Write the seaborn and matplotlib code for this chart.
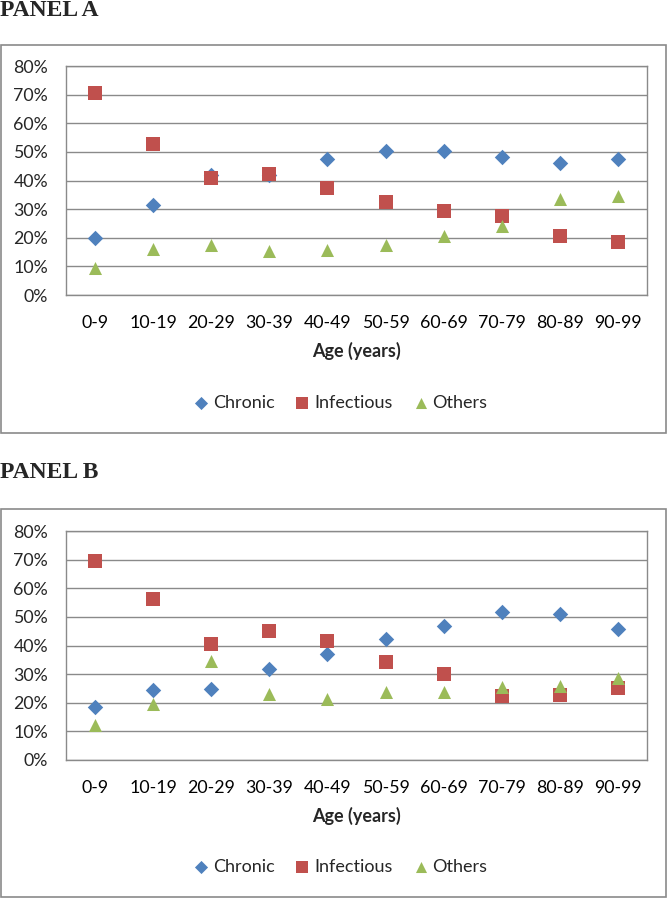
import numpy as np
import pandas as pd
import matplotlib
matplotlib.use("Agg")
import matplotlib.pyplot as plt
import seaborn as sns
from matplotlib.patches import Rectangle
from matplotlib.ticker import FixedLocator, FuncFormatter

# data (fractions)
age_groups = ["0-9", "10-19", "20-29", "30-39", "40-49",
              "50-59", "60-69", "70-79", "80-89", "90-99"]
series_names = ["Chronic", "Infectious", "Others"]

a_chronic = [0.20, 0.313, 0.42, 0.42, 0.474, 0.502, 0.502, 0.482, 0.462, 0.474]
a_infectious = [0.704, 0.529, 0.409, 0.424, 0.374, 0.325, 0.292, 0.277, 0.205, 0.184]
a_others = [0.095, 0.161, 0.176, 0.155, 0.158, 0.176, 0.207, 0.242, 0.336, 0.347]

b_chronic = [0.184, 0.245, 0.247, 0.317, 0.371, 0.423, 0.469, 0.517, 0.510, 0.458]
b_infectious = [0.695, 0.561, 0.405, 0.450, 0.414, 0.344, 0.299, 0.224, 0.227, 0.252]
b_others = [0.121, 0.194, 0.345, 0.229, 0.212, 0.236, 0.236, 0.254, 0.260, 0.288]

colors = {"Chronic": "#4F81BD", "Infectious": "#C0504D", "Others": "#9BBB59"}
markers = {"Chronic": "D", "Infectious": "s", "Others": "^"}
sizes = {"Chronic": 62, "Infectious": 92, "Others": 88}

sns.set_style("white")
plt.rcParams["font.family"] = ["Lato", "DejaVu Sans"]

W, H = 669, 899
fig = plt.figure(figsize=(W / 100, H / 100), dpi=100)
GRAY = "#8a8a8a"


def long_frame(chronic, infectious, others):
    rows = []
    for name, vals in zip(series_names, [chronic, infectious, others]):
        for g, v in zip(age_groups, vals):
            rows.append({"age": g, "value": v, "series": name})
    return pd.DataFrame(rows)


def panel(title, title_y, box_top, box_bot, ax_top, ax_bot, legend_y, data):
    # panel title
    fig.text(0, 1 - title_y / H, title, family="Liberation Serif", weight="bold",
             fontsize=17, ha="left", va="center")
    # outer chart frame
    fig.patches.append(Rectangle((1 / W, 1 - box_bot / H), (666 - 1) / W, (box_bot - box_top) / H,
                                 transform=fig.transFigure, fill=False, edgecolor=GRAY, lw=1.2))

    ax = fig.add_axes([66 / W, 1 - ax_bot / H, (647 - 66) / W, (ax_bot - ax_top) / H])
    df = long_frame(*data)
    for name in series_names:
        sub = df[df["series"] == name]
        sns.scatterplot(data=sub, x="age", y="value", ax=ax, color=colors[name],
                        marker=markers[name], s=sizes[name], linewidth=0,
                        label=name, zorder=3)

    ax.set_xlim(-0.5, len(age_groups) - 0.5)
    ax.set_ylim(0, 0.8)
    ax.yaxis.set_major_locator(FixedLocator(np.arange(0, 0.81, 0.1)))
    ax.yaxis.set_major_formatter(FuncFormatter(lambda v, p: f"{v * 100:.0f}%"))
    ax.grid(axis="y", color=GRAY, lw=1.0)
    ax.set_axisbelow(True)
    for sp in ax.spines.values():
        sp.set_color(GRAY)
        sp.set_linewidth(1.0)

    ax.set_xticks(range(len(age_groups)))
    ax.set_xticklabels(age_groups)
    ax.xaxis.set_minor_locator(FixedLocator(np.arange(0.5, len(age_groups) - 1, 1)))
    ax.tick_params(axis="x", which="major", length=0, pad=14.5, labelsize=12.8, colors="black")
    ax.tick_params(axis="x", which="minor", length=4.5, width=1.0, color=GRAY, direction="in")
    ax.tick_params(axis="y", length=0, pad=13, labelsize=12.8)

    ax.set_xlabel("Age (years)", fontsize=13, weight="bold", labelpad=8)
    ax.set_ylabel("")

    handles, labels = ax.get_legend_handles_labels()
    ax.legend(handles, labels, loc="center", ncol=3, frameon=False,
              bbox_to_anchor=(341 / W, 1 - legend_y / H), bbox_transform=fig.transFigure,
              fontsize=13, handlelength=0.7, handletextpad=0.3, columnspacing=1.2,
              markerscale=0.85)
    return ax


panel("PANEL A", 11, 45, 433, 66, 295, 403, (a_chronic, a_infectious, a_others))
panel("PANEL B", 473, 509, 897, 531, 760, 867, (b_chronic, b_infectious, b_others))

fig.savefig("out.png", dpi=100)
